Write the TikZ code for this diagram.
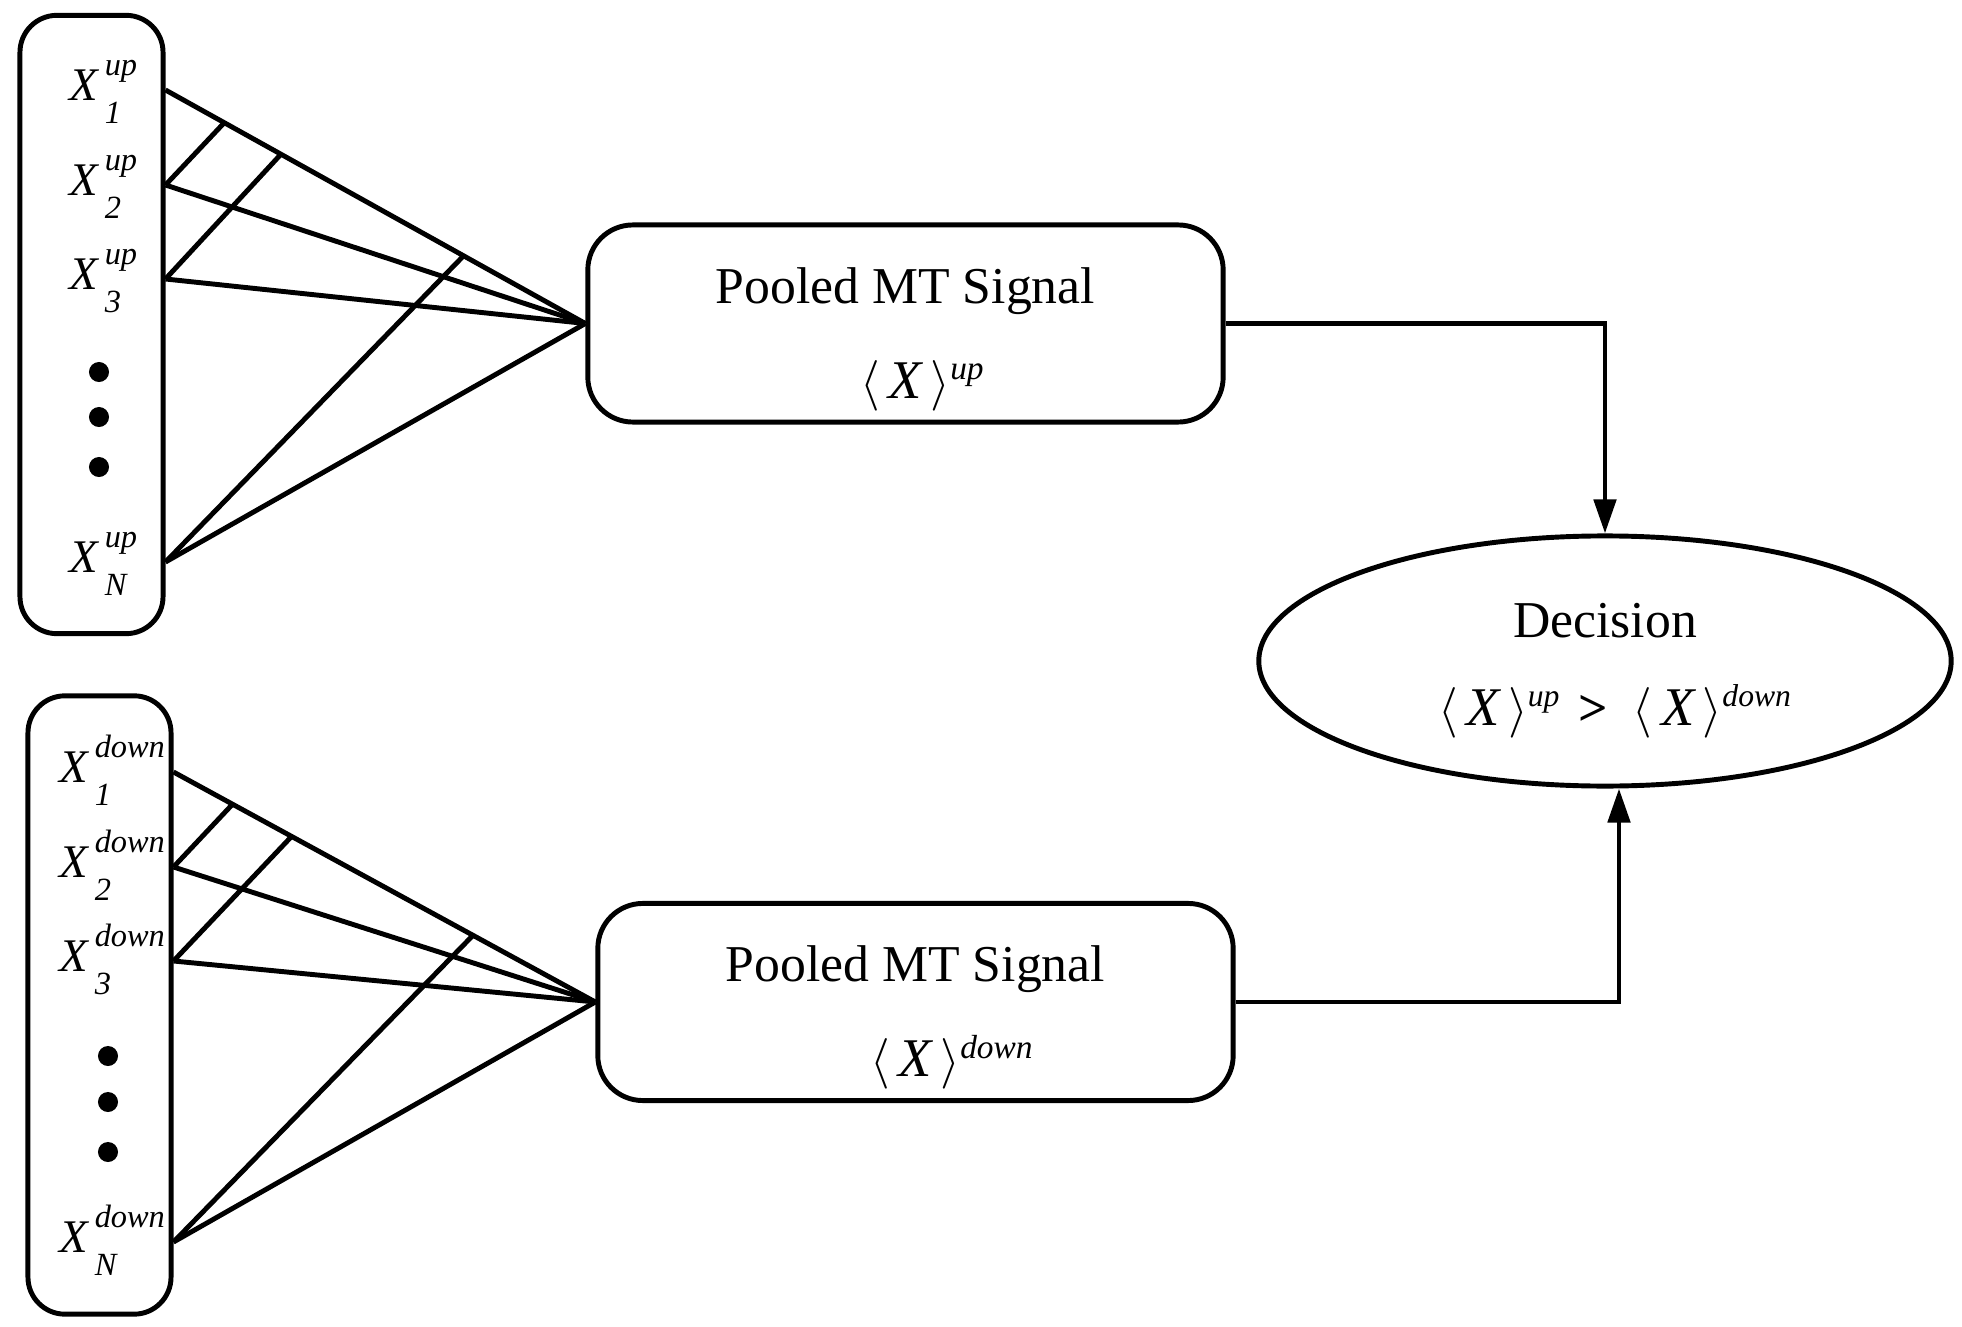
\documentclass[tikz,border=0pt]{standalone}
\usepackage{fontspec}
\setmainfont{Liberation Serif}
\usetikzlibrary{shapes,arrows.meta,calc}

\newcommand{\xlab}[2]{\textit{X}\hspace{1.5pt}\raisebox{0.1ex}{\fontsize{9.2}{13.5}\selectfont\begin{tabular}{@{}l@{}}\textit{#1}\\\textit{#2}\end{tabular}}}
\newcommand{\avg}[1]{$\langle\,\mbox{\fontsize{15.5}{15.5}\selectfont\itshape X}\,\rangle^{\mbox{\fontsize{9}{9}\selectfont\itshape #1}}$}
\newcommand{\avgc}[1]{$\langle\,\mbox{\fontsize{15.5}{15.5}\selectfont\itshape X}\,\rangle\rlap{$^{\mbox{\fontsize{9.5}{9.5}\selectfont\itshape #1}}$}$}

\begin{document}
\begin{tikzpicture}[x=0.01cm,y=-0.01cm,line width=1.4pt]
\tikzstyle{stack}=[draw,rounded corners=0.37cm,minimum width=1.43cm,minimum height=6.18cm,inner sep=0]
\tikzstyle{pool}=[draw,rounded corners=0.45cm,minimum width=6.35cm,minimum height=1.97cm,inner sep=0,
  align=center,font=\fontsize{14.7}{27}\selectfont]
\tikzstyle{decide}=[draw,ellipse,minimum width=6.92cm,minimum height=2.5cm,inner sep=0,
  align=center,font=\fontsize{14.7}{25}\selectfont]
\tikzstyle{lab}=[anchor=west,inner sep=0,font=\fontsize{13.3}{13.3}\selectfont]
\tikzstyle{arr}=[-{Triangle[length=0.34cm,width=0.22cm]}]
\useasboundingbox (0,0) rectangle (1962,1327);

% inputs
\node[stack] (lu) at (91.5,324.5) {};
\node[stack] (ld) at (99.5,1005) {};
\foreach \n/\y in {1/90,2/185,3/279,N/562} {
  \node[lab] (xu\n) at (67,\y) {\xlab{up}{\n}};
  \coordinate (u\n) at (lu.east |- 0,\y);
}
\foreach \n/\y in {1/772,2/867,3/961,N/1242} {
  \node[lab] (xd\n) at (57,\y) {\xlab{down}{\n}};
  \coordinate (d\n) at (ld.east |- 0,\y);
}
\foreach \y in {372,417,467} \fill (99,\y) circle (0.1cm);
\foreach \y in {1056,1102,1152} \fill (108,\y) circle (0.1cm);

% pooling and decision
\node[pool] (pu) at (905.5,323.5) {\rule{0pt}{19pt}Pooled MT Signal\\\avgc{up}};
\node[pool] (pd) at (915.5,1002) {\rule{0pt}{19pt}Pooled MT Signal\\\avgc{down}};
\node[decide] (dec) at (1605,661) {\rule{0pt}{15pt}Decision\\\hspace{6pt}\avg{up}\hspace{5pt}\textbf{>}\hspace{7pt}\avg{down}};

% fan-in
\foreach \n in {1,2,3,N} {
  \draw (u\n) -- (pu.west);
  \draw (d\n) -- (pd.west);
}
\draw (u2) -- ($(u1)!0.14!(pu.west)$);
\draw (u3) -- ($(u1)!0.275!(pu.west)$);
\draw (uN) -- ($(u1)!0.71!(pu.west)$);
\draw (d2) -- ($(d1)!0.14!(pd.west)$);
\draw (d3) -- ($(d1)!0.28!(pd.west)$);
\draw (dN) -- ($(d1)!0.71!(pd.west)$);

\draw[arr] (pu.east) -| (dec.north);
\draw[arr] (pd.east) -| ($(dec.south)+(14,0)$);
\end{tikzpicture}
\end{document}
